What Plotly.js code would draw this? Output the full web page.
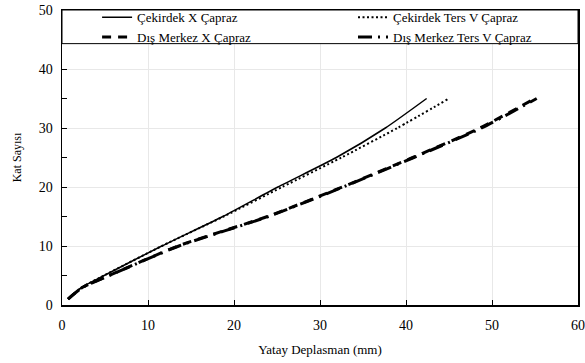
<!DOCTYPE html>
<html>
<head>
<meta charset="utf-8">
<script src="https://cdn.plot.ly/plotly-3.0.1.min.js"></script>
<style>html,body{margin:0;padding:0;background:#fff;}#chart{width:585px;height:363px;}</style>
</head>
<body>
<div id="chart"></div>
<script>
// Story numbers (Kat Sayısı)
const stories = [1, 3, 5, 10, 15, 20, 25, 30, 35];
// Horizontal displacement (mm) per series
const cekirdekX     = [0.7, 2.3, 4.9, 11.6, 18.7, 25.1, 31.9, 37.6, 42.4];
const cekirdekTersV = [0.7, 2.3, 4.9, 11.6, 18.8, 25.6, 32.5, 39.0, 45.0];
const disMerkezX     = [0.7, 2.4, 5.5, 13.5, 23.9, 32.6, 40.8, 48.6, 55.0];
const disMerkezTersV = [0.7, 2.4, 5.5, 13.6, 24.0, 32.7, 40.9, 48.8, 55.2];
const seriesNames = ['Çekirdek X Çapraz', 'Çekirdek Ters V Çapraz', 'Dış Merkez X Çapraz', 'Dış Merkez Ters V Çapraz'];
const xTitle = 'Yatay Deplasman (mm)';
const yTitle = 'Kat Sayısı';

const font = 'Liberation Serif';
const traces = [
  {x: cekirdekX, y: stories, name: seriesNames[0], legend: 'legend', mode: 'lines', line: {color: '#000', width: 1.5, shape: 'spline', smoothing: 0.6}},
  {x: cekirdekTersV, y: stories, name: seriesNames[1], legend: 'legend2', mode: 'lines', line: {color: '#000', width: 2, dash: '2px,2.5px', shape: 'spline', smoothing: 0.6}},
  {x: disMerkezX, y: stories, name: seriesNames[2], legend: 'legend3', mode: 'lines', line: {color: '#000', width: 3, dash: '9px,7px', shape: 'spline', smoothing: 0.6}},
  {x: disMerkezTersV, y: stories, name: seriesNames[3], legend: 'legend4', mode: 'lines', line: {color: '#000', width: 3, dash: '14px,6px,2px,6px', shape: 'spline', smoothing: 0.6}}
];
function leg(x, y) {
  return {
    orientation: 'v', x: x, y: y, xanchor: 'left', yanchor: 'middle',
    bgcolor: 'rgba(0,0,0,0)', borderwidth: 0,
    font: {family: font, size: 13, color: '#000'},
    tracegroupgap: 0, itemwidth: 30
  };
}
const layout = {
  width: 585, height: 363,
  margin: {l: 62, r: 7, t: 10, b: 58, autoexpand: false},
  paper_bgcolor: '#fff', plot_bgcolor: '#fff',
  font: {family: font, color: '#000', size: 13},
  showlegend: true,
  legend: leg(0.068, 0.975),
  legend2: leg(0.564, 0.975),
  legend3: leg(0.068, 0.908),
  legend4: leg(0.564, 0.908),
  xaxis: {
    range: [0, 60], dtick: 10, tick0: 0, automargin: false,
    showgrid: true, gridcolor: '#e8e8e8', gridwidth: 1,
    zeroline: false, showline: true, linecolor: '#000', linewidth: 1.5, mirror: true,
    ticks: 'inside', ticklen: 5, tickcolor: '#000', tickwidth: 1,
    ticklabelstandoff: 7,
    tickfont: {family: font, size: 14, color: '#000'},
    title: {text: xTitle, font: {family: font, size: 13, color: '#000'}, standoff: 12}
  },
  yaxis: {
    range: [0, 50], dtick: 10, tick0: 0, automargin: false,
    showgrid: true, gridcolor: '#e8e8e8', gridwidth: 1,
    zeroline: false, showline: true, linecolor: '#000', linewidth: 1.5, mirror: true,
    ticks: 'inside', ticklen: 5, tickcolor: '#000', tickwidth: 1,
    ticklabelstandoff: 5,
    minor: {dtick: 5, ticks: 'inside', ticklen: 5, tickcolor: '#000', showgrid: false},
    tickfont: {family: font, size: 14, color: '#000'},
    title: {text: yTitle, font: {family: font, size: 12, color: '#000'}, standoff: 14}
  },
  shapes: [
    {type: 'rect', xref: 'paper', yref: 'paper', x0: 0, x1: 1, y0: 0.886, y1: 1,
     fillcolor: '#fff', line: {color: '#000', width: 1}, layer: 'above'}
  ]
};
Plotly.newPlot('chart', traces, layout, {staticPlot: true});
</script>
</body>
</html>
